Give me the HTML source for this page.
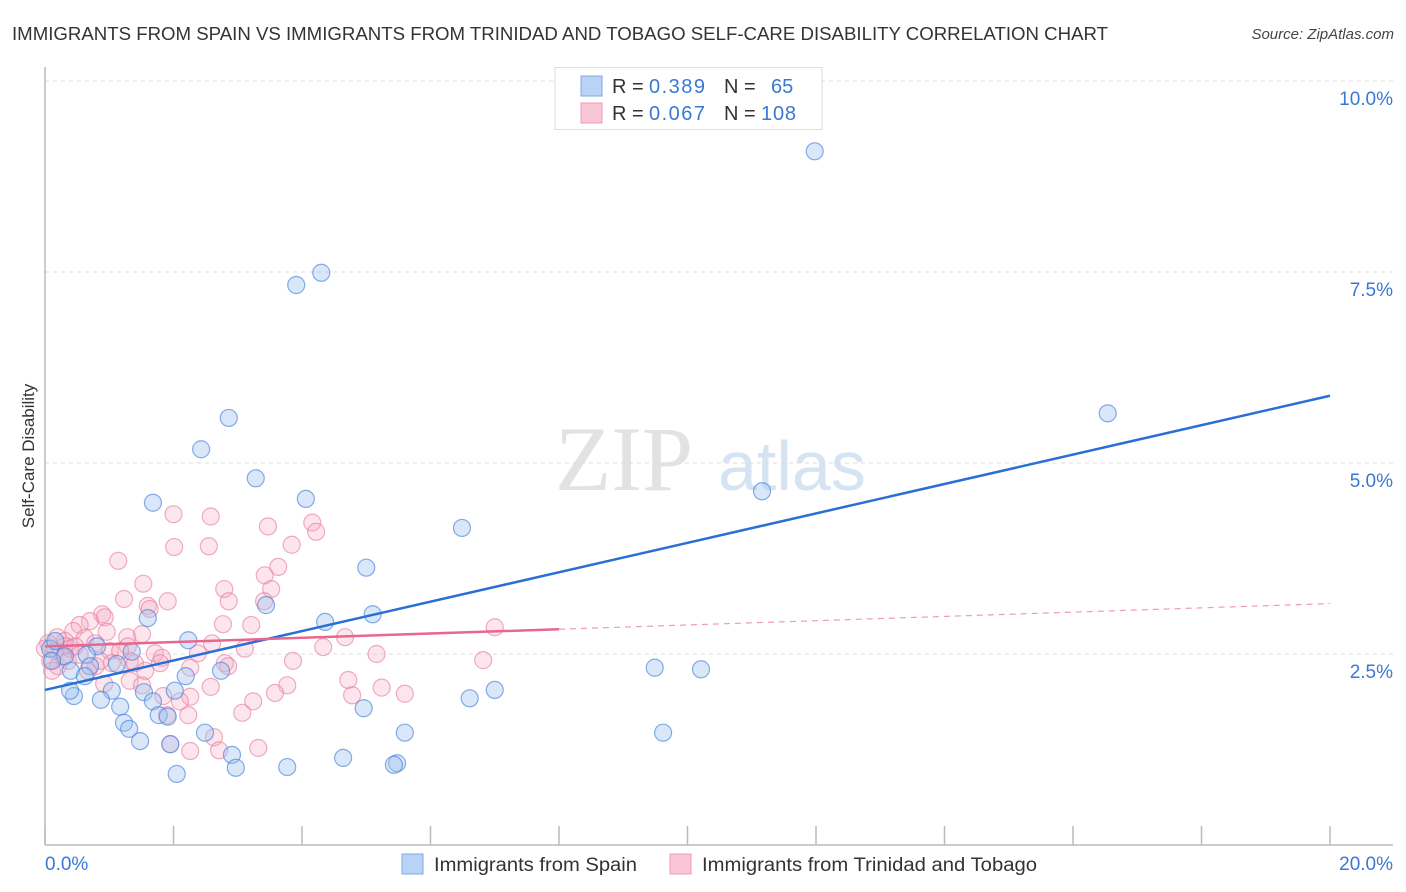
<!DOCTYPE html>
<html><head><meta charset="utf-8"><style>
body{margin:0;background:#fff;font-family:"Liberation Sans",sans-serif;}
svg{display:block}
</style></head><body>
<svg id="chart" width="1406" height="892">
<text x="12" y="40" font-size="18.5" fill="#333" textLength="1096" lengthAdjust="spacingAndGlyphs">IMMIGRANTS FROM SPAIN VS IMMIGRANTS FROM TRINIDAD AND TOBAGO SELF-CARE DISABILITY CORRELATION CHART</text>
<text x="1394" y="39" font-size="15" fill="#444" font-style="italic" text-anchor="end">Source: ZipAtlas.com</text>
<text transform="translate(34,456) rotate(-90)" font-size="17" fill="#333" text-anchor="middle">Self-Care Disability</text>
<g>
<text x="555" y="490" font-size="92" fill="#e2e2e2" font-family="Liberation Serif,serif">ZIP</text>
<text x="718" y="490" font-size="70" fill="#d5e3f3">atlas</text>
</g>
<g id="grid"></g>
<g id="axes"></g>
<g id="pts"></g>
<g id="trend"></g>
<g>
<rect x="555" y="67.5" width="267" height="62" fill="#fff" stroke="#ddd"/>
<rect x="581" y="76" width="21" height="20" fill="#b8d3f5" stroke="#7fa8e0"/>
<rect x="581" y="103" width="21" height="20" fill="#f9c6d5" stroke="#ee9bb5"/>
<text x="612" y="93" font-size="20" fill="#333">R = <tspan x="649" fill="#3a78d4" textLength="56">0.389</tspan></text>
<text x="724" y="93" font-size="20" fill="#333">N = <tspan x="771" fill="#3a78d4">65</tspan></text>
<text x="612" y="120" font-size="20" fill="#333">R = <tspan x="649" fill="#3a78d4" textLength="56">0.067</tspan></text>
<text x="724" y="120" font-size="20" fill="#333">N = <tspan x="761" fill="#3a78d4" textLength="35">108</tspan></text>
</g>
<g>
<rect x="402" y="854" width="21" height="20" fill="#b8d3f5" stroke="#7fa8e0"/>
<text x="434" y="871" font-size="19" fill="#333" textLength="203" lengthAdjust="spacingAndGlyphs">Immigrants from Spain</text>
<rect x="670" y="854" width="21" height="20" fill="#f9c6d5" stroke="#ee9bb5"/>
<text x="702" y="871" font-size="19" fill="#333" textLength="335" lengthAdjust="spacingAndGlyphs">Immigrants from Trinidad and Tobago</text>
</g>
</svg>
<script>
const yTicks=[2.5,5,7.5,10];
const yTickLabels=["2.5%","5.0%","7.5%","10.0%"];
const xTicks=[0,2,4,6,8,10,12,14,16,18,20];
const xEndLabels=["0.0%","20.0%"];
const spainX=[11.98,4.30,3.91,16.54,2.86,2.43,3.28,11.16,4.06,1.68,6.49,5.00,3.44,5.10,4.36,1.60,2.23,0.81,0.08,0.31,0.65,1.35,9.49,10.21,2.74,1.12,0.40,0.70,2.19,7.00,6.61,2.02,1.54,1.04,0.45,0.87,1.68,1.17,4.96,1.77,1.91,1.23,1.31,5.60,9.62,2.49,1.48,1.95,2.91,4.64,5.48,5.43,3.77,2.97,2.05,0.16,0.11,0.62,0.39];
const spainY=[9.08,7.49,7.33,5.65,5.59,5.18,4.80,4.63,4.53,4.48,4.15,3.63,3.14,3.02,2.92,2.97,2.68,2.60,2.57,2.47,2.49,2.53,2.32,2.30,2.28,2.37,2.28,2.34,2.21,2.03,1.92,2.02,2.00,2.02,1.95,1.90,1.88,1.81,1.79,1.70,1.68,1.60,1.52,1.47,1.47,1.47,1.36,1.32,1.18,1.14,1.07,1.05,1.02,1.01,0.93,2.67,2.41,2.21,2.02];
const trinX=[2.00,2.58,3.47,4.16,4.22,2.01,2.55,1.14,3.84,3.63,3.42,2.79,3.52,1.53,1.23,1.91,2.86,3.41,1.60,1.63,0.89,0.93,0.70,0.54,0.44,7.00,2.77,3.21,0.96,1.28,4.67,1.51,0.19,0.31,0.62,0.05,0.30,0.39,0.47,0.78,2.60,4.33,3.11,1.29,1.01,1.71,2.38,5.16,1.82,1.79,3.86,6.82,1.32,1.04,0.79,2.80,2.85,2.26,0.67,4.72,1.32,1.51,2.58,3.77,5.24,5.60,4.78,3.58,1.84,2.26,2.10,3.24,0.92,3.07,1.90,2.23,2.63,1.95,3.32,2.71,2.26,0.16,0.08,0.20,0.28,0.11,0.36,0.54,0.00,1.17,0.86,1.40,1.56];
const trinY=[4.33,4.30,4.17,4.22,4.10,3.90,3.91,3.72,3.93,3.64,3.53,3.35,3.35,3.42,3.22,3.19,3.19,3.19,3.13,3.09,3.02,2.98,2.93,2.88,2.80,2.85,2.89,2.88,2.79,2.72,2.72,2.76,2.72,2.67,2.71,2.64,2.60,2.57,2.60,2.64,2.64,2.59,2.57,2.60,2.54,2.51,2.51,2.50,2.45,2.38,2.41,2.42,2.41,2.38,2.34,2.38,2.34,2.32,2.28,2.16,2.15,2.09,2.07,2.09,2.06,1.98,1.96,1.99,1.95,1.94,1.88,1.88,2.11,1.73,1.70,1.70,1.41,1.32,1.27,1.24,1.23,2.54,2.41,2.34,2.47,2.28,2.41,2.49,2.57,2.54,2.41,2.38,2.28];
const spainTrend=[2.03,5.88];   // y at x=0 and x=20
const trinTrend=[2.60,3.16];    // y at x=0 and x=20
const trinSolidEnd=8.0;

const NS="http://www.w3.org/2000/svg";
const X0=45,X1=1330,Y0=845,YPER=76.4;
const sx=v=>X0+(v/20)*(X1-X0);
const sy=v=>Y0-v*YPER;
function mk(tag,attrs,parent){const e=document.createElementNS(NS,tag);for(const k in attrs)e.setAttribute(k,attrs[k]);parent.appendChild(e);return e;}
const grid=document.getElementById('grid'),axes=document.getElementById('axes'),pts=document.getElementById('pts'),tr=document.getElementById('trend');
yTicks.forEach((t,i)=>{
  const l=mk('line',{x1:X0,x2:1393,y1:sy(t),y2:sy(t),stroke:'#ddd','stroke-dasharray':'4,4'},grid);
  
  
  const tx=mk('text',{x:1393,y:sy(t)+24,'font-size':19,fill:'#3a78d4','text-anchor':'end'},grid);
  tx.textContent=yTickLabels[i];
  
  
});
const ax=mk('line',{x1:X0,x2:1393,y1:Y0,y2:Y0,stroke:'#bbb','stroke-width':1.5},axes);


const ay=mk('line',{x1:X0,x2:X0,y1:67,y2:Y0,stroke:'#bbb','stroke-width':1.5},axes);


xTicks.forEach(t=>{
  const l=mk('line',{x1:sx(t),x2:sx(t),y1:826,y2:Y0,stroke:'#bbb','stroke-width':1.5},axes);
  
  
});
[[0,'start',xEndLabels[0]],[20,'end',xEndLabels[1]]].forEach(([v,a,s])=>{
  const t=mk('text',{x:v===0?sx(v):1393,y:870,'font-size':19,fill:'#3a78d4','text-anchor':a},axes);
  t.textContent=s;
  
  
});
trinX.forEach((x,i)=>{
  const c=mk('circle',{cx:sx(x),cy:sy(trinY[i]),r:8.5,fill:'rgba(246,170,195,0.3)',stroke:'rgba(232,120,155,0.6)','stroke-width':1.2},pts);
  
  
});
spainX.forEach((x,i)=>{
  const c=mk('circle',{cx:sx(x),cy:sy(spainY[i]),r:8.5,fill:'rgba(160,196,240,0.4)',stroke:'rgba(70,130,220,0.65)','stroke-width':1.2},pts);
  
  
});
const ty=(tt,x)=>tt[0]+(tt[1]-tt[0])*x/20;
const l1=mk('line',{x1:sx(0),y1:sy(spainTrend[0]),x2:sx(20),y2:sy(spainTrend[1]),stroke:'#2a6fd6','stroke-width':2.5},tr);


const l2=mk('line',{x1:sx(0),y1:sy(trinTrend[0]),x2:sx(trinSolidEnd),y2:sy(ty(trinTrend,trinSolidEnd)),stroke:'#e8678f','stroke-width':2.5},tr);


const l3=mk('line',{x1:sx(trinSolidEnd),y1:sy(ty(trinTrend,trinSolidEnd)),x2:sx(20),y2:sy(trinTrend[1]),stroke:'#ee9bb5','stroke-width':1.2,'stroke-dasharray':'6,5'},tr);


</script>
</body></html>
